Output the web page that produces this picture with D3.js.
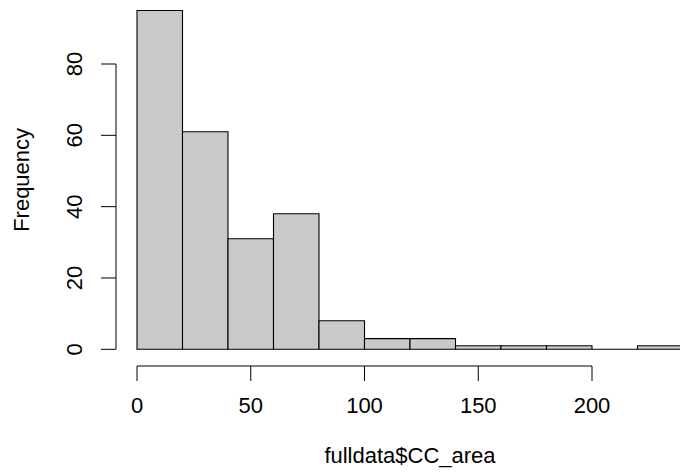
<!DOCTYPE html>
<html>
<head>
<meta charset="utf-8">
<script src="https://cdn.jsdelivr.net/npm/d3@7"></script>
<style>
  body { margin: 0; background: #fff; }
  svg { display: block; font-family: "Liberation Sans", Arial, sans-serif; }
</style>
</head>
<body>
<div id="chart-area"></div>
<script>
const WIDTH = 680;
const HEIGHT = 476;

// histogram bins (width 20) and counts
const binStarts = [0, 20, 40, 60, 80, 100, 120, 140, 160, 180, 200, 220];
const binWidth = 20;
const counts = [95, 61, 31, 38, 8, 3, 3, 1, 1, 1, 0, 1];
const xTicks = [0, 50, 100, 150, 200];
const yTicks = [0, 20, 40, 60, 80];

const x = d3.scaleLinear().domain([0, 100]).range([137, 364.5]);
const y = d3.scaleLinear().domain([0, 80]).range([349.3, 64]);
const FONT = 22;

const svg = d3.select('#chart-area').append('svg')
    .attr("width", WIDTH)
    .attr("height", HEIGHT);

const bins = binStarts.map((s, i) => ({x0: s, x1: s + binWidth, n: counts[i]}));

// paths instead of rects so the empty bin still shows its outline
svg.append("g")
    .selectAll("path")
    .data(bins)
    .join("path")
    .attr("d", d => {
        const p = d3.path();
        p.rect(x(d.x0), y(d.n), x(d.x1) - x(d.x0), y(0) - y(d.n));
        return p.toString();
    })
    .attr("fill", "#c9c9c9")
    .attr("stroke", "#000")
    .attr("stroke-width", 1.1);

// x axis (R style: line spans ticks only)
const xAxis = svg.append("g").attr("transform", "translate(0,366)");
xAxis.append("line")
    .attr("x1", x(0)).attr("x2", x(200))
    .attr("stroke", "#000");
xAxis.selectAll(".tick")
    .data(xTicks)
    .join("line")
    .attr("x1", d => x(d)).attr("x2", d => x(d))
    .attr("y1", 0).attr("y2", 15)
    .attr("stroke", "#000");
xAxis.selectAll("text")
    .data(xTicks)
    .join("text")
    .attr("x", d => x(d))
    .attr("y", 47)
    .attr("text-anchor", "middle")
    .attr("font-size", FONT)
    .text(d => d);

// y axis
const yAxis = svg.append("g").attr("transform", "translate(116,0)");
yAxis.append("line")
    .attr("y1", y(0)).attr("y2", y(80))
    .attr("stroke", "#000");
yAxis.selectAll(".tick")
    .data(yTicks)
    .join("line")
    .attr("y1", d => y(d)).attr("y2", d => y(d))
    .attr("x1", 0).attr("x2", -15)
    .attr("stroke", "#000");
yAxis.selectAll("text")
    .data(yTicks)
    .join("text")
    .attr("transform", d => `translate(-34,${y(d)}) rotate(-90)`)
    .attr("text-anchor", "middle")
    .attr("font-size", FONT)
    .text(d => d);

// axis titles centred on the plot region (data range padded 4%)
svg.append("text")
    .attr("transform", `translate(29,${y(47.5)}) rotate(-90)`)
    .attr("text-anchor", "middle")
    .attr("font-size", FONT)
    .text("Frequency");

svg.append("text")
    .attr("x", x(120))
    .attr("y", 463)
    .attr("text-anchor", "middle")
    .attr("font-size", FONT)
    .text("fulldata$CC_area");
</script>
</body>
</html>
